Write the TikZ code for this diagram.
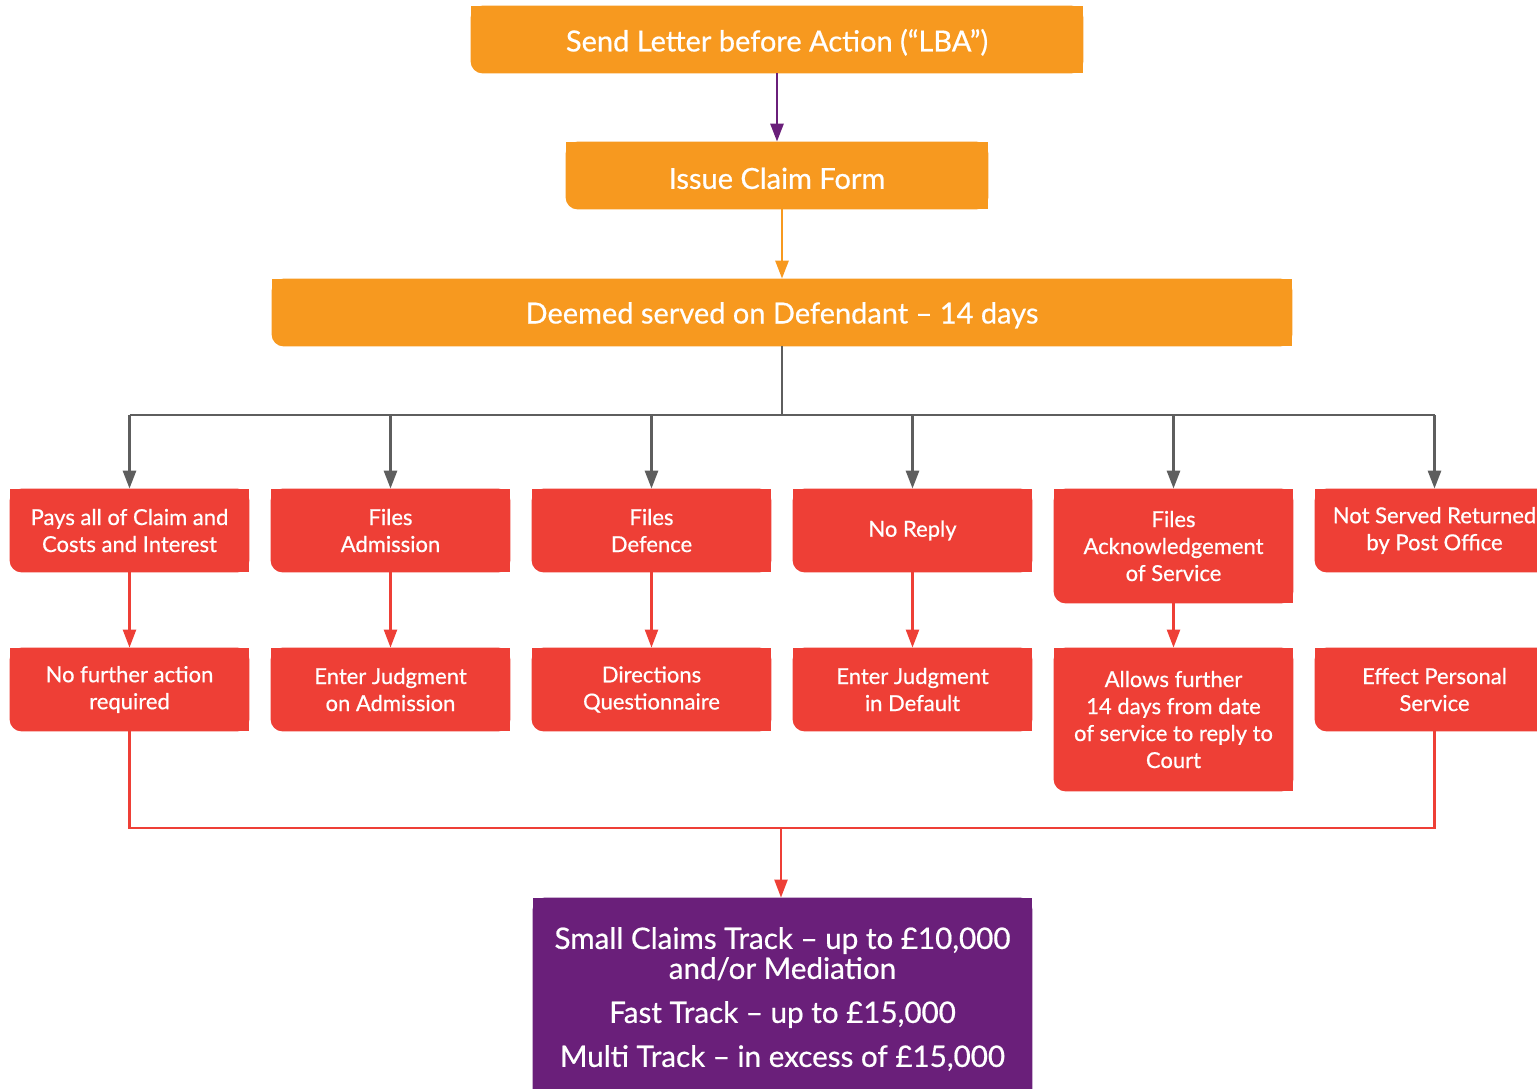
\documentclass[tikz,border=0pt]{standalone}
\usepackage{fontspec}
\setmainfont{Lato}[FakeBold=0.6]
\usetikzlibrary{arrows.meta,backgrounds}
\definecolor{corange}{HTML}{F7991F}
\definecolor{cred}{HTML}{EE3F36}
\definecolor{cpurple}{HTML}{6A1F7A}
\definecolor{cgray}{HTML}{5E5E5E}
\tikzset{
  base/.style={rectangle,inner sep=0pt,text=white,align=center},
  obox/.style={base,minimum width=#1,minimum height=33.5pt,font=\fontsize{14.5}{16}\selectfont},
  rbox/.style={base,minimum width=119.5pt,minimum height=#1,font=\fontsize{11}{13.5}\selectfont},
  pbox/.style={base,minimum width=249.5pt,minimum height=101pt,font=\fontsize{14.8}{15}\selectfont},
  tip/.style={-{Triangle[width=6.5pt,length=9pt]}},
  gline/.style={draw=cgray,line width=1.4pt},
  garrow/.style={gline,tip,cgray},
  rline/.style={draw=cred,line width=1.2pt},
  rarrow/.style={rline,tip,cred},
  parrow/.style={draw=cpurple,line width=1.4pt,tip,cpurple},
  oarrow/.style={draw=corange,line width=1.4pt,tip,corange},
}
\newcommand{\bgbox}[2]{%
  \fill[#2,rounded corners=6pt] (#1.south west) rectangle (#1.north east);
  \fill[#2] (#1.west) rectangle (#1.north east);
  \fill[#2] (#1.south) rectangle (#1.north east);
}
\newcommand{\dn}[1]{\raisebox{-1.4pt}[\height][\depth]{#1}}
\begin{document}
\begin{tikzpicture}[x=0.5pt,y=-0.5pt]
\useasboundingbox (0,0) rectangle (1537,1088);
\clip (0,0) rectangle (1537,1088);

\node[obox=306pt] (lba) at (777,39.5) {\dn{Send Letter before Action (“LBA”)}};
\node[obox=211pt] (icf) at (777,175.5) {\dn{Issue Claim Form}};
\node[obox=510pt] (dsd) at (782,312.5) {\dn{Deemed served on Defendant – 14 days}};

\node[rbox=41.5pt] (p1) at (129.5,530.5) {Pays all of Claim and\\Costs and Interest};
\node[rbox=41.5pt] (p2) at (390.5,530.5) {Files\\Admission};
\node[rbox=41.5pt] (p3) at (651.5,530.5) {Files\\Defence};
\node[rbox=41.5pt] (p4) at (912.5,530.5) {No Reply};
\node[rbox=57pt] (p5) at (1173.5,546) {Files\\Acknowledgement\\of Service};
\node[rbox=41.5pt] (p6) at (1434.5,530.5) {Not Served Returned\\by Post Office};

\node[rbox=41.5pt] (q1) at (129.5,689.5) {No further action\\required};
\node[rbox=41.5pt] (q2) at (390.5,689.5) {Enter Judgment\\on Admission};
\node[rbox=41.5pt] (q3) at (651.5,689.5) {Directions\\Questionnaire};
\node[rbox=41.5pt] (q4) at (912.5,689.5) {Enter Judgment\\in Default};
\node[rbox=71.5pt] (q5) at (1173.5,719.5) {Allows further\\14 days from date\\of service to reply to\\Court};
\node[rbox=41.5pt] (q6) at (1434.5,689.5) {Effect Personal\\Service};

\node[pbox] (pur) at (782.5,999) {Small Claims Track – up to £10,000\\and/or Mediation\\[7pt]Fast Track – up to £15,000\\[7pt]Multi Track – in excess of £15,000};

\begin{scope}[on background layer]
\bgbox{lba}{corange}
\bgbox{icf}{corange}
\bgbox{dsd}{corange}
\foreach \n in {p1,p2,p3,p4,p5,p6,q1,q2,q3,q4,q5,q6}{\bgbox{\n}{cred}}
\bgbox{pur}{cpurple}
\end{scope}

\draw[parrow] (lba.south) -- (icf.north);
\draw[oarrow] (icf.south -| dsd.north) -- (dsd.north);

\coordinate (bus) at (781,415);
\draw[gline] (dsd.south) -- (dsd.south |- bus);
\draw[gline] (p1.north |- bus) -- (p6.north |- bus);
\foreach \n in {p1,p2,p3,p4,p5,p6}{\draw[garrow] (\n.north |- bus) -- (\n.north);}

\foreach \a/\b in {p1/q1,p2/q2,p3/q3,p4/q4,p5/q5}{\draw[rarrow] (\a.south) -- (\b.north);}

\coordinate (rb) at (781,828);
\draw[rline] (q1.south) |- (q6.south |- rb) -- (q6.south);
\draw[rarrow] (rb) -- (pur.north -| rb);
\end{tikzpicture}
\end{document}
